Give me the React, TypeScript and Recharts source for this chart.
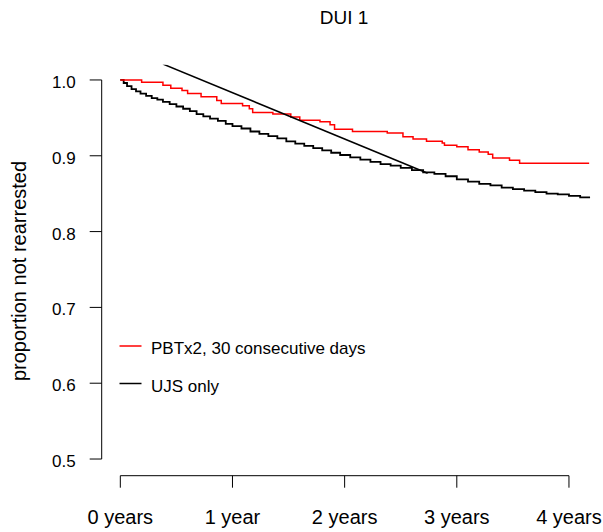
import React from "react";
import { LineChart, Line, XAxis, YAxis, ReferenceLine } from "recharts";

// Kaplan-Meier style curves (time in years, proportion not rearrested)
const pbtTimes = [0, 0.19, 0.38, 0.45, 0.55, 0.6, 0.72, 0.86, 0.9, 1.09, 1.15, 1.18, 1.36, 1.52, 1.6, 1.78, 1.87, 1.91, 2.07, 2.38, 2.52, 2.61, 2.73, 2.87, 2.89, 3.0, 3.1, 3.2, 3.28, 3.32, 3.47, 3.56, 4.18];
const pbtValues = [1.0, 0.997, 0.993, 0.989, 0.986, 0.982, 0.978, 0.973, 0.969, 0.966, 0.962, 0.957, 0.955, 0.951, 0.947, 0.945, 0.941, 0.935, 0.932, 0.93, 0.925, 0.922, 0.919, 0.917, 0.914, 0.912, 0.908, 0.905, 0.902, 0.897, 0.894, 0.89, 0.89];

const ujsTimes = [0, 0.03, 0.06, 0.1, 0.14, 0.18, 0.23, 0.28, 0.33, 0.38, 0.44, 0.5, 0.56, 0.62, 0.68, 0.74, 0.8, 0.87, 0.94, 1.0, 1.08, 1.16, 1.24, 1.32, 1.4, 1.48, 1.56, 1.64, 1.72, 1.8, 1.88, 1.96, 2.05, 2.14, 2.23, 2.32, 2.41, 2.5, 2.6, 2.7, 2.8, 2.9, 3.0, 3.1, 3.2, 3.3, 3.4, 3.5, 3.6, 3.7, 3.8, 3.9, 4.0, 4.1, 4.18];
const ujsValues = [1.0, 0.996, 0.992, 0.988, 0.985, 0.982, 0.979, 0.976, 0.974, 0.971, 0.968, 0.965, 0.962, 0.959, 0.955, 0.952, 0.949, 0.946, 0.942, 0.939, 0.936, 0.932, 0.929, 0.926, 0.923, 0.919, 0.916, 0.913, 0.91, 0.907, 0.904, 0.901, 0.898, 0.895, 0.892, 0.889, 0.887, 0.884, 0.881, 0.878, 0.876, 0.873, 0.869, 0.866, 0.863, 0.861, 0.858, 0.856, 0.854, 0.852, 0.85, 0.849, 0.847, 0.845, 0.844];

// straight annotation segment
const diagTimes = [0.38, 2.74];
const diagValues = [1.021, 0.877];

const xTicks = [0, 1, 2, 3, 4];
const xTickLabels = ["0 years", "1 year", "2 years", "3 years", "4 years"];
const yTicks = [0.5, 0.6, 0.7, 0.8, 0.9, 1.0];

const legendLabels = ["PBTx2, 30 consecutive days", "UJS only"];
const legendColors = ["#ff0000", "#000000"];

const font = "'Liberation Sans', Arial, Helvetica, sans-serif";

const toRows = (xs: number[], ys: number[]) => xs.map((x, i) => ({ t: x, p: ys[i] }));

export default function App() {
  const pbt = toRows(pbtTimes, pbtValues);
  const ujs = toRows(ujsTimes, ujsValues);
  const diag = toRows(diagTimes, diagValues);

  return (
    <div style={{ position: "absolute", left: 0, top: 0, width: 603, height: 532, background: "#fff", fontFamily: font }}>
      <LineChart width={603} height={532} margin={{ top: 64.8, right: 6, left: 0, bottom: 0 }}>
        <XAxis
          type="number"
          dataKey="t"
          domain={[-0.166, 4.25]}
          ticks={xTicks}
          tickFormatter={(v: number) => xTickLabels[xTicks.indexOf(v)] ?? ""}
          height={56.3}
          axisLine={false}
          tickSize={12}
          tickMargin={22}
          tickLine={{ stroke: "#000", strokeWidth: 1 }}
          tick={{ fontSize: 20, fill: "#000", fontFamily: font }}
          allowDataOverflow
        />
        <YAxis
          type="number"
          domain={[0.478, 1.02]}
          ticks={yTicks}
          tickFormatter={(v: number) => v.toFixed(1)}
          width={101.7}
          axisLine={false}
          tickSize={12}
          tickMargin={14}
          tickLine={{ stroke: "#000", strokeWidth: 1 }}
          tick={{ fontSize: 17, fill: "#000", fontFamily: font, dy: 2 }}
          allowDataOverflow
        />
        <ReferenceLine segment={[{ x: 0, y: 0.478 }, { x: 4, y: 0.478 }]} stroke="#000" strokeWidth={1} ifOverflow="visible" />
        <ReferenceLine segment={[{ x: -0.166, y: 0.5 }, { x: -0.166, y: 1.0 }]} stroke="#000" strokeWidth={1} ifOverflow="visible" />
        <Line data={ujs} dataKey="p" type="stepAfter" stroke="#000" strokeWidth={1.8} dot={false} activeDot={false} isAnimationActive={false} />
        <Line data={pbt} dataKey="p" type="stepAfter" stroke="#ff0000" strokeWidth={1.5} dot={false} activeDot={false} isAnimationActive={false} />
        <Line data={diag} dataKey="p" type="linear" stroke="#000" strokeWidth={1.5} dot={false} activeDot={false} isAnimationActive={false} />
      </LineChart>
      <svg width={603} height={532} style={{ position: "absolute", left: 0, top: 0, pointerEvents: "none" }}>
        <text x={344} y={23.5} textAnchor="middle" fontSize={19} fontFamily={font} fill="#000">DUI 1</text>
        <text transform="translate(26,271) rotate(-90)" textAnchor="middle" fontSize={20} fontFamily={font} fill="#000">proportion not rearrested</text>
        {legendLabels.map((label, i) => (
          <g key={label}>
            <line x1={119.5} x2={141.5} y1={346 + i * 37.5} y2={346 + i * 37.5} stroke={legendColors[i]} strokeWidth={1.5} />
            <text x={151} y={354 + i * 37.5} fontSize={17} fontFamily={font} fill="#000">{label}</text>
          </g>
        ))}
      </svg>
    </div>
  );
}
